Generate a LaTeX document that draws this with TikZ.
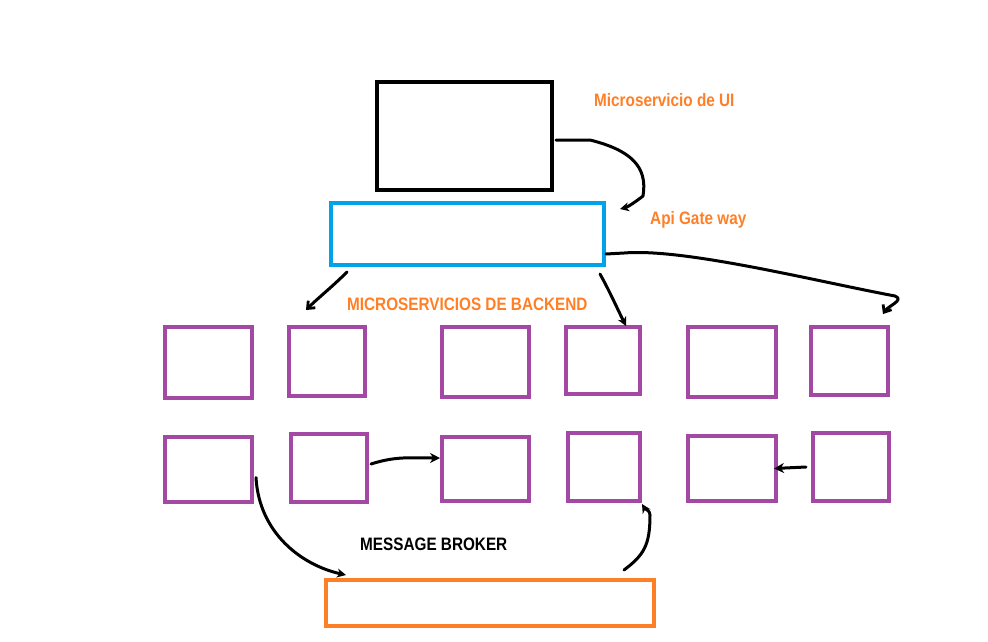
\documentclass[tikz,border=0pt]{standalone}
\usepackage{fontspec}
\setmainfont{Liberation Sans}
\newfontfamily\narrowfont[FakeStretch=0.85]{Liberation Sans}
\usetikzlibrary{calc,arrows.meta}
\definecolor{uiblack}{RGB}{0,0,0}
\definecolor{apiblue}{RGB}{0,162,232}
\definecolor{bepurple}{RGB}{163,73,164}
\definecolor{brokerorange}{RGB}{255,127,39}
\definecolor{lblorange}{RGB}{255,127,39}
\tikzset{
  box/.style={draw, line width=4pt, inner sep=0pt, minimum width=#1},
  ubox/.style={box=175pt, minimum height=108pt, draw=uiblack},
  abox/.style={box=273pt, minimum height=62pt, draw=apiblue},
  pbox/.style={draw=bepurple, line width=4pt, inner sep=0pt},
  obox/.style={box=328pt, minimum height=46pt, draw=brokerorange},
  conn/.style={draw=black, line width=3pt, line cap=round, line join=round},
  lbl/.style={font=\narrowfont\bfseries\fontsize{18}{21}\selectfont, inner sep=0pt, anchor=west},
  tipopen/.style={-{Stealth[open,length=9pt,width=9pt,line width=2.2pt]}},
  tipfill/.style={-{Stealth[length=10pt,width=10pt]}},
  tipbarb/.style={-{Straight Barb[length=6pt,width=10pt,line width=2.8pt]}}
}
\begin{document}
\begin{tikzpicture}[x=1pt,y=-1pt]
\useasboundingbox (0,0) rectangle (988,641);
% main boxes
\node[ubox] (ui) at (464.5,136) {};
\node[abox] (api) at (467.5,234) {};
% backend row 1
\node[pbox, minimum width=87pt, minimum height=71pt] (b1) at (208.5,362.5) {};
\node[pbox, minimum width=76pt, minimum height=69pt] (b2) at (327,361.5) {};
\node[pbox, minimum width=87pt, minimum height=70pt] (b3) at (485.5,362) {};
\node[pbox, minimum width=74pt, minimum height=67pt] (b4) at (603,360.5) {};
\node[pbox, minimum width=88pt, minimum height=70pt] (b5) at (732,362) {};
\node[pbox, minimum width=77pt, minimum height=68pt] (b6) at (849.5,361) {};
% backend row 2
\node[pbox, minimum width=87pt, minimum height=65pt] (c1) at (208.5,469.5) {};
\node[pbox, minimum width=76pt, minimum height=68pt] (c2) at (329,468) {};
\node[pbox, minimum width=87pt, minimum height=64pt] (c3) at (485.5,469) {};
\node[pbox, minimum width=72pt, minimum height=68pt] (c4) at (604,467) {};
\node[pbox, minimum width=88pt, minimum height=65pt] (c5) at (732,468.5) {};
\node[pbox, minimum width=76pt, minimum height=68pt] (c6) at (851,467) {};
% broker
\node[obox] (broker) at (490,603) {};
% labels
\node[lbl, text=lblorange] (tui) at (594,100) {Microservicio de UI};
\node[lbl, text=lblorange] (tapi) at (650,220) {Api Gate way};
\node[lbl, text=lblorange] (tbe) at (347,304) {MICROSERVICIOS DE BACKEND};
\node[lbl, text=black] (tmb) at (360,544) {MESSAGE BROKER};
% connectors
\draw[conn, tipopen] ($(ui.east)+(2,4)$) -- ++(34,0)
  .. controls +(40,10) and +(5,-30) .. ($(api.north east)+(37,-5)$)
  .. controls +(-5,4) and +(8,-2) .. ($(api.north east)+(14,8)$);
\draw[conn, tipbarb] ($(api.south west)+(18,5)$)
  .. controls +(-15,15) and +(12,-12) .. ($(b2.north west)+(19,-15)$);
\draw[conn, tipopen] ($(api.south east)+(-6,7)$)
  .. controls +(10,18) and +(-10,-20) .. ($(b4.north)+(23,1)$);
\draw[conn, tipbarb] ($(api.east)+(0,20)$) -- ++(18,-1)
  .. controls +(60,-5) and +(-80,-15) .. ($(b6.north east)+(5,-29)$)
  .. controls +(10,4) and +(5,-8) .. ($(b6.north east)+(-7,-11)$);
\draw[conn, tipopen] ($(c1.east)+(2,8)$)
  .. controls +(3,55) and +(-45,-10) .. ($(broker.north west)+(22,-3)$);
\draw[conn, tipfill] ($(c2.east)+(2,-4)$)
  .. controls +(25,-8) and +(-30,0) .. ($(c3.west)+(0,-11)$);
\draw[conn, tipopen] ($(broker.north east)+(-32,-8)$)
  .. controls +(20,-15) and +(0,30) .. ($(c4.south east)+(8,12)$)
  .. controls +(0,-5) and +(3,5) .. ($(c4.south east)+(0,1)$);
\draw[conn, tipfill] ($(c6.west)+(-5,0)$) -- ($(c5.east)+(-4,0)$);
\end{tikzpicture}
\end{document}
